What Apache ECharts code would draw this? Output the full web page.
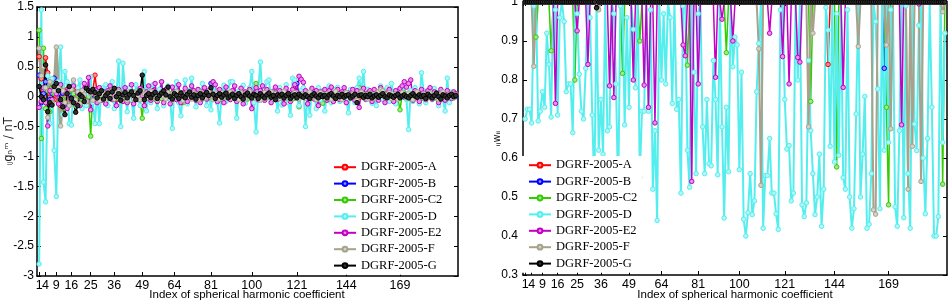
<!DOCTYPE html>
<html>
<head>
<meta charset="utf-8">
<script src="https://cdn.jsdelivr.net/npm/echarts@6/dist/echarts.min.js"></script>
<style>
  html, body { margin: 0; padding: 0; background: #fff; }
  #chart { width: 952px; height: 306px; }
</style>
</head>
<body>
<div id="chart"></div>
<script>
// series names and colours
const names = ["DGRF-2005-A", "DGRF-2005-B", "DGRF-2005-C2", "DGRF-2005-D", "DGRF-2005-E2", "DGRF-2005-F", "DGRF-2005-G"];
const colors = ["#ff0000", "#0000ff", "#33cc00", "#55eeee", "#c400c4", "#a6a28c", "#000000"];
const fills = ["#ff9090", "#9090ff", "#a0e890", "#b0f8f8", "#e890e8", "#d4d2c6", "#303030"];

// x tick positions (n^2)
const xTicks = [1, 4, 9, 16, 25, 36, 49, 64, 81, 100, 121, 144, 169];
const xTitle = "Index of spherical harmonic coefficient";

// left panel: coefficient differences (nT), index 1..195
const leftA = [
  0.67, 0.30, 0.10, 0.65, 0.40, 0.05, 0.15, -0.05, 0.10, 0.20, -0.15, 0.05, -0.10, 0.12, 0.02,
  -0.05, 0.10, -0.08, 0.04, 0.06, -0.03, 0.08, 0.02, 0.05, 0.00, 0.10, 0.36, 0.05, -0.02, 0.06,
  0.02, -0.03, 0.05, 0.01, 0.07, 0.03, -0.04, 0.04, 0.06, -0.02, 0.03, 0.00, 0.05, 0.02, -0.03,
  0.04, 0.02, -0.02, 0.08, 0.01, 0.03, -0.03, 0.05, 0.02, -0.01, 0.04, 0.06, -0.02, 0.03, 0.01,
  0.05, -0.02, 0.02, 0.04, -0.01, 0.03, 0.00, 0.05, -0.03, 0.02, 0.04, 0.01, -0.02, 0.03, 0.05,
  0.00, -0.02, 0.04, 0.02, 0.03, 0.06, -0.01, 0.02, 0.04, -0.03, 0.01, 0.03, 0.05, 0.00, -0.02,
  0.03, 0.01, 0.04, -0.02, 0.02, 0.05, 0.00, -0.03, 0.03, 0.02, 0.04, -0.01, 0.02, 0.05, 0.01,
  -0.02, 0.03, 0.04, 0.00, 0.02, -0.03, 0.05, 0.01, 0.03, -0.02, 0.02, 0.04, 0.00, 0.03, 0.01,
  0.05, -0.02, 0.02, 0.03, 0.00, 0.04, -0.01, 0.02, 0.05, 0.01, -0.02, 0.03, 0.02, 0.00, 0.04,
  0.01, -0.02, 0.03, 0.05, 0.00, 0.02, -0.01, 0.04, 0.02, 0.03, -0.02, 0.01, 0.04, 0.02, -0.01,
  0.03, 0.05, 0.00, 0.02, -0.02, 0.04, 0.01, 0.03, 0.00, 0.05, 0.02, -0.01, 0.03, 0.04, 0.00,
  0.02, -0.02, 0.04, 0.01, 0.03, 0.05, 0.00, -0.01, 0.03, 0.02, 0.04, -0.02, 0.01, 0.03, 0.02,
  0.00, 0.04, -0.01, 0.02, 0.03, 0.05, 0.00, -0.02, 0.03, 0.01, 0.04, 0.00, 0.02, -0.01, 0.03
];
const leftB = [
  0.36, -0.10, 0.05, 0.25, 0.10, -0.05, 0.05, 0.31, 0.10, 0.05, -0.08, 0.06, -0.12, 0.08, 0.04,
  -0.02, 0.06, -0.10, 0.03, 0.05, -0.02, 0.07, 0.03, 0.04, -0.01, 0.06, 0.04, -0.03, 0.05, 0.02,
  -0.02, 0.03, 0.06, 0.00, 0.04, 0.07, -0.02, 0.03, 0.05, -0.03, 0.02, 0.01, 0.04, 0.06, -0.01,
  0.03, 0.02, -0.02, 0.05, 0.01, 0.04, -0.02, 0.03, 0.05, 0.00, 0.02, 0.04, -0.01, 0.03, 0.02,
  0.04, 0.00, -0.02, 0.03, 0.05, 0.01, -0.01, 0.04, 0.02, 0.03, 0.05, -0.02, 0.01, 0.03, 0.04,
  -0.01, 0.02, 0.05, 0.03, 0.00, 0.22, 0.04, -0.02, 0.02, 0.03, 0.05, 0.00, -0.02, 0.04, 0.01,
  0.02, 0.05, -0.01, 0.03, 0.02, 0.04, 0.00, -0.02, 0.03, 0.05, 0.01, 0.02, -0.01, 0.04, 0.03,
  0.00, 0.02, 0.05, -0.02, 0.03, 0.01, 0.04, 0.02, -0.01, 0.03, 0.05, 0.00, 0.02, 0.04, -0.02,
  0.22, 0.03, 0.01, 0.04, -0.01, 0.02, 0.05, 0.00, 0.03, 0.02, -0.02, 0.04, 0.01, 0.03, 0.05,
  -0.01, 0.02, 0.04, 0.00, 0.03, 0.01, -0.02, 0.05, 0.02, 0.03, 0.00, 0.04, -0.01, 0.02, 0.03,
  0.05, 0.00, 0.02, -0.02, 0.04, 0.01, 0.03, 0.05, -0.01, 0.02, 0.04, 0.00, 0.03, 0.01, -0.02,
  0.04, 0.02, 0.03, 0.00, 0.05, -0.01, 0.02, 0.04, 0.01, -0.02, 0.03, 0.05, 0.00, 0.02, 0.04,
  -0.01, 0.03, 0.02, 0.05, 0.00, -0.02, 0.04, 0.01, 0.03, 0.02, 0.05, -0.01, 0.02, 0.04, 0.00
];
const leftC2 = [
  1.11, -0.70, 0.81, -0.20, 0.10, -0.25, 0.15, 0.05, 0.20, -0.10, 0.12, -0.05, -0.20, 0.08, 0.10,
  -0.06, 0.05, -0.15, 0.02, 0.08, -0.04, 0.06, 0.10, 0.00, -0.66, 0.08, 0.04, -0.03, 0.06, 0.02,
  -0.05, 0.04, 0.07, -0.02, 0.05, 0.10, -0.03, 0.03, 0.06, -0.04, 0.05, 0.02, -0.06, 0.04, 0.08,
  -0.02, 0.03, -0.05, -0.36, 0.04, 0.06, -0.02, 0.03, 0.05, -0.04, 0.02, 0.07, -0.03, 0.05, 0.01,
  0.04, -0.03, 0.06, 0.02, -0.05, 0.03, 0.07, -0.10, 0.02, 0.05, -0.02, 0.04, 0.01, -0.03, 0.06,
  0.02, -0.04, 0.05, 0.03, -0.02, 0.06, 0.01, -0.03, 0.04, 0.02, -0.05, 0.03, 0.06, -0.01, 0.02,
  0.05, -0.03, 0.02, 0.04, -0.02, 0.06, 0.01, -0.04, 0.03, 0.05, -0.02, 0.22, 0.04, -0.03, 0.02,
  0.05, -0.01, 0.03, -0.04, 0.02, 0.06, 0.00, -0.03, 0.04, 0.02, -0.02, 0.05, 0.01, -0.04, 0.03,
  0.06, -0.17, 0.02, 0.04, -0.02, 0.03, 0.05, -0.01, 0.02, -0.04, 0.04, 0.01, -0.11, 0.03, 0.05,
  -0.02, 0.02, 0.04, -0.03, 0.01, 0.05, 0.02, -0.02, 0.03, 0.06, -0.01, 0.02, -0.04, 0.03, 0.15,
  0.02, -0.02, 0.04, 0.01, -0.03, 0.05, 0.02, -0.01, 0.03, 0.06, 0.00, -0.02, 0.04, 0.02, -0.03,
  0.05, 0.01, -0.02, -0.22, 0.03, 0.06, 0.00, -0.03, 0.04, 0.02, -0.02, 0.05, 0.01, -0.03, 0.03,
  0.04, -0.01, 0.02, 0.05, -0.02, 0.03, 0.00, -0.04, 0.04, 0.02, -0.01, 0.03, 0.05, -0.02, 0.02
];
const leftD = [
  -2.80, 1.45, -1.43, -1.76, 0.35, -0.45, 0.30, -0.90, -1.67, 0.25, 0.83, -0.30, 0.42, 0.25, -0.45,
  -0.475, 0.20, -0.10, 0.15, 0.28, -0.20, 0.10, -0.15, 0.05, 0.33, -0.10, -0.45, 0.10, -0.45, 0.15,
  -0.05, 0.20, -0.15, 0.10, 0.25, -0.20, 0.05, 0.595, -0.50, 0.56, 0.10, -0.25, 0.15, -0.05, -0.36,
  0.20, 0.05, -0.15, 0.10, 0.42, -0.24, 0.15, -0.10, 0.20, 0.05, -0.20, 0.12, 0.25, -0.15, 0.10,
  0.18, -0.05, -0.53, 0.15, 0.25, -0.10, -0.32, 0.05, 0.28, -0.12, 0.10, 0.31, 0.05, -0.17, 0.12,
  -0.05, 0.22, 0.10, -0.15, 0.05, -0.22, 0.15, 0.08, -0.10, -0.44, 0.05, 0.19, -0.08, 0.12, 0.25,
  0.25, 0.05, -0.36, 0.10, -0.05, 0.19, -0.11, 0.05, 0.15, 0.42, -0.10, -0.59, 0.10, 0.58, -0.05,
  0.12, 0.25, 0.28, -0.08, 0.10, 0.05, -0.24, 0.15, -0.14, 0.05, 0.20, -0.10, -0.31, 0.31, 0.28,
  0.05, -0.15, 0.10, 0.15, -0.50, 0.05, -0.31, 0.12, 0.08, -0.20, 0.15, -0.05, 0.10, -0.24, 0.05,
  0.18, -0.10, 0.05, 0.12, 0.155, -0.08, 0.05, 0.10, -0.05, -0.27, 0.12, 0.05, -0.10, 0.15, 0.31,
  0.10, 0.42, -0.05, 0.12, 0.05, -0.11, 0.10, -0.15, 0.05, 0.18, -0.05, 0.10, 0.15, -0.08, 0.22,
  0.05, -0.12, 0.10, 0.05, 0.15, 0.22, -0.05, -0.55, 0.10, -0.08, 0.15, 0.05, -0.12, 0.40, 0.10,
  -0.10, 0.05, 0.12, -0.05, 0.14, 0.05, -0.15, 0.10, -0.05, -0.24, 0.31, -0.10, 0.08, 0.02, 0.05
];
const leftE2 = [
  -0.18, -0.08, 0.15, -0.10, -0.49, 0.10, -0.05, 0.15, 0.05, -0.12, 0.20, -0.15, 0.08, -0.20, 0.12,
  -0.05, 0.18, -0.12, 0.06, -0.15, 0.10, 0.22, -0.08, 0.32, -0.22, 0.05, 0.12, -0.10, 0.15, -0.06,
  0.08, -0.12, 0.10, 0.18, -0.05, 0.02, -0.15, 0.12, 0.05, -0.08, 0.15, -0.10, 0.03, 0.20, -0.12,
  0.06, -0.05, 0.14, 0.02, -0.15, 0.08, 0.18, -0.06, 0.10, 0.22, -0.08, 0.04, 0.25, -0.10, 0.12,
  0.05, -0.12, 0.16, 0.08, -0.05, 0.20, -0.10, 0.06, 0.14, -0.08, 0.02, 0.18, 0.10, -0.06, 0.12,
  -0.10, 0.08, 0.15, -0.04, 0.10, 0.05, 0.25, 0.20, -0.08, 0.12, 0.04, -0.10, 0.16, 0.06, -0.05,
  0.10, 0.18, -0.08, 0.05, 0.14, -0.12, 0.08, 0.02, 0.12, -0.20, 0.06, 0.15, -0.05, 0.10, 0.18,
  -0.06, 0.12, 0.04, -0.10, 0.08, 0.16, -0.04, 0.10, 0.02, -0.12, 0.14, 0.06, -0.08, 0.12, 0.20,
  0.08, 0.34, 0.29, 0.24, 0.10, -0.12, 0.06, 0.14, -0.04, 0.10, -0.15, 0.08, 0.02, 0.12, -0.06,
  0.10, 0.16, -0.08, 0.05, 0.12, -0.05, 0.08, 0.15, -0.10, 0.06, 0.02, 0.12, -0.06, 0.10, -0.18,
  0.08, 0.14, -0.04, 0.06, 0.10, -0.08, 0.12, 0.04, -0.06, 0.15, 0.08, -0.10, 0.06, 0.12, 0.02,
  -0.08, 0.10, 0.05, 0.14, 0.18, 0.25, 0.16, 0.22, 0.28, -0.06, 0.10, 0.04, -0.08, 0.12, 0.06,
  -0.05, 0.10, 0.15, -0.04, 0.08, 0.02, -0.10, 0.12, 0.06, -0.06, 0.10, 0.04, -0.03, 0.08, 0.05
];
const leftF = [
  0.81, 0.35, 0.50, 0.15, -0.35, 0.25, -0.10, 0.10, 0.83, 0.15, -0.49, 0.10, -0.10, 0.05, -0.15,
  0.12, 0.28, -0.05, 0.08, -0.12, 0.10, 0.03, -0.08, 0.12, 0.05, -0.06, 0.09, 0.02, -0.07, 0.10,
  0.04, -0.05, 0.08, 0.00, 0.11, -0.04, 0.06, 0.09, -0.07, 0.05, 0.02, -0.06, 0.08, 0.03, -0.04,
  0.07, 0.01, -0.05, 0.10, 0.04, -0.03, 0.06, 0.09, -0.02, 0.05, -0.06, 0.03, 0.08, 0.00, -0.04,
  0.07, 0.02, -0.05, 0.06, 0.09, -0.02, 0.04, -0.06, 0.03, 0.08, 0.01, -0.04, 0.06, 0.02, -0.05,
  0.08, 0.03, -0.03, 0.05, 0.09, 0.00, -0.05, 0.06, 0.02, -0.04, 0.07, 0.03, -0.02, 0.05, 0.08,
  -0.03, 0.04, 0.01, -0.05, 0.07, 0.02, -0.04, 0.06, 0.09, 0.00, -0.03, 0.05, 0.02, -0.06, 0.04,
  0.07, -0.02, 0.03, 0.08, -0.04, 0.05, 0.01, -0.03, 0.06, 0.09, -0.02, 0.04, -0.05, 0.03, 0.07,
  0.01, -0.04, 0.05, 0.02, -0.03, 0.06, 0.08, -0.01, 0.03, -0.05, 0.04, 0.07, 0.00, -0.03, 0.05,
  0.02, -0.04, 0.06, 0.09, -0.02, 0.03, -0.05, 0.04, 0.07, 0.01, -0.03, 0.05, 0.02, -0.06, 0.04,
  0.08, -0.01, 0.03, -0.04, 0.06, 0.02, -0.03, 0.05, 0.09, 0.12, 0.10, -0.02, 0.04, 0.07, -0.03,
  0.02, 0.05, -0.04, 0.03, 0.07, 0.00, -0.02, 0.06, 0.03, -0.05, 0.04, 0.08, -0.01, 0.02, 0.05,
  -0.04, 0.03, 0.06, -0.02, 0.04, 0.01, -0.05, 0.05, 0.08, 0.00, -0.03, 0.04, 0.06, -0.02, 0.03
];
const leftG = [
  0.17, 0.00, -0.05, 0.53, -0.25, -0.10, -0.14, 0.17, 0.22, 0.10, -0.05, -0.17, -0.30, 0.05, 0.17,
  -0.03, -0.10, -0.26, -0.15, 0.03, 0.00, -0.08, 0.14, 0.10, 0.08, 0.12, 0.07, -0.02, 0.05, 0.10,
  -0.04, 0.02, 0.06, -0.03, 0.08, 0.14, 0.00, 0.05, -0.06, 0.03, 0.07, -0.02, 0.04, 0.08, 0.02,
  -0.05, 0.06, 0.10, 0.36, -0.05, 0.02, 0.05, -0.02, 0.04, 0.07, -0.03, 0.02, 0.06, 0.10, 0.03,
  0.16, 0.00, -0.04, 0.05, 0.02, -0.03, 0.06, 0.01, -0.02, 0.04, 0.08, -0.01, 0.03, -0.04, 0.02,
  0.05, -0.02, 0.03, 0.07, 0.02, 0.15, 0.04, -0.03, 0.02, 0.05, -0.01, 0.03, 0.06, -0.02, 0.01,
  0.04, -0.03, 0.02, 0.05, 0.00, -0.04, 0.03, 0.06, 0.01, -0.02, 0.04, 0.02, -0.03, 0.05, 0.01,
  -0.02, 0.03, 0.06, -0.01, 0.02, -0.05, 0.03, 0.01, 0.04, -0.02, 0.02, 0.05, -0.03, 0.01, 0.03,
  -0.02, 0.04, 0.01, -0.01, 0.03, 0.00, -0.03, 0.02, 0.05, 0.01, -0.02, 0.03, 0.00, 0.02, -0.02,
  0.03, 0.05, 0.01, -0.03, 0.02, 0.00, 0.04, -0.01, 0.02, 0.03, -0.02, 0.01, 0.04, -0.10, 0.02,
  0.03, -0.01, 0.02, 0.00, 0.04, -0.02, 0.01, 0.03, -0.01, 0.02, 0.05, 0.00, -0.02, 0.03, 0.01,
  -0.01, 0.02, 0.04, -0.02, 0.01, 0.03, 0.00, -0.02, 0.02, 0.05, 0.01, -0.01, 0.03, 0.00, 0.02,
  -0.03, 0.04, 0.01, -0.02, 0.02, 0.06, 0.00, -0.04, 0.03, 0.01, -0.02, 0.02, 0.04, 0.00, 0.02
];

// right panel: weights, index 1..195
const rightA = [
  1, 1, 1, 1, 1, 1, 1, 1, 1, 1, 1, 1, 1, 1, 1,
  1, 1, 1, 1, 1, 1, 1, 1, 1, 1, 1, 1, 1, 1, 1,
  1, 1, 1, 1, 1, 1, 1, 1, 1, 1, 1, 1, 1, 1, 1,
  1, 1, 1, 1, 1, 1, 1, 1, 1, 1, 1, 1, 1, 1, 1,
  1, 1, 1, 1, 1, 1, 1, 1, 1, 1, 1, 1, 1, 1, 1,
  1, 1, 1, 1, 1, 1, 1, 1, 1, 1, 1, 1, 1, 1, 1,
  1, 1, 1, 1, 1, 1, 1, 1, 1, 1, 1, 1, 1, 1, 1,
  1, 1, 1, 1, 1, 1, 1, 1, 1, 1, 1, 1, 1, 1, 1,
  1, 1, 1, 1, 1, 1, 1, 1, 1, 1, 1, 1, 1, 1, 1,
  1, 1, 1, 1, 1, 0.84, 1, 1, 1, 1, 1, 1, 1, 1, 1,
  1, 1, 1, 1, 1, 1, 1, 1, 1, 1, 1, 1, 1, 1, 1,
  1, 1, 1, 1, 1, 1, 1, 1, 1, 1, 1, 1, 1, 1, 1,
  1, 1, 1, 1, 1, 1, 1, 1, 1, 1, 1, 1, 1, 1, 1
];
const rightB = [
  1, 1, 1, 1, 1, 1, 1, 1, 1, 1, 1, 1, 1, 1, 1,
  1, 1, 1, 1, 1, 1, 1, 1, 1, 1, 1, 1, 1, 1, 1,
  1, 1, 1, 1, 1, 1, 1, 1, 1, 1, 1, 1, 1, 1, 1,
  1, 1, 1, 1, 1, 1, 1, 1, 1, 1, 1, 1, 1, 1, 1,
  1, 1, 1, 1, 1, 1, 1, 1, 1, 1, 1, 1, 1, 1, 1,
  1, 1, 1, 1, 1, 1, 1, 1, 1, 1, 1, 1, 1, 1, 1,
  1, 1, 1, 1, 1, 1, 1, 1, 1, 1, 1, 1, 1, 1, 1,
  1, 1, 1, 1, 1, 1, 1, 1, 1, 1, 1, 1, 1, 1, 1,
  1, 1, 1, 1, 1, 1, 1, 1, 1, 1, 1, 1, 1, 1, 1,
  1, 1, 1, 1, 1, 1, 1, 1, 1, 1, 1, 1, 1, 1, 1,
  1, 1, 1, 1, 1, 1, 1, 1, 1, 1, 1, 1, 1, 1, 1,
  1, 0.83, 1, 1, 1, 1, 1, 1, 1, 1, 1, 1, 1, 1, 1,
  1, 1, 1, 1, 1, 1, 1, 1, 1, 1, 1, 1, 1, 1, 1
];
const rightC2 = [
  1, 1, 1, 1, 1, 0.91, 1, 1, 1, 1, 1, 1, 0.875, 1, 1,
  1, 1, 1, 1, 1, 1, 1, 1, 0.80, 1, 1, 1, 1, 1, 1,
  1, 1, 1, 1, 1, 1, 1, 1, 1, 1, 1, 1, 1, 1, 1,
  0.817, 1, 1, 1, 1, 1, 1, 1, 0.90, 1, 1, 1, 1, 1, 1,
  1, 1, 1, 1, 1, 1, 1, 1, 1, 1, 1, 1, 1, 1, 1,
  0.838, 1, 1, 1, 1, 1, 1, 1, 1, 1, 1, 1, 1, 1, 1,
  1, 1, 1, 0.87, 1, 1, 1, 1, 1, 1, 1, 1, 1, 1, 1,
  1, 1, 1, 1, 1, 1, 1, 1, 1, 1, 1, 1, 1, 1, 1,
  1, 1, 1, 1, 1, 1, 1, 1, 1, 1, 1, 1, 0.745, 1, 1,
  1, 1, 1, 1, 1, 1, 1, 1, 1, 0.577, 1, 1, 1, 1, 1,
  1, 1, 1, 1, 1, 1, 1, 1, 1, 1, 1, 1, 1, 1, 1,
  1, 1, 0.73, 0.48, 1, 1, 1, 1, 1, 1, 1, 1, 1, 1, 1,
  1, 1, 1, 1, 1, 1, 1, 1, 1, 1, 1, 1, 1, 0.533, 1
];
const rightD = [
  0.70, 0.725, 0.725, 0.69, 0.99, 1, 0.695, 0.72, 0.77, 0.73, 0.92, 0.84, 0.705, 1, 0.98,
  0.71, 0.96, 1, 0.95, 0.77, 0.79, 0.79, 0.665, 1, 0.97, 0.815, 0.72, 0.70, 0.83, 1,
  0.96, 0.71, 0.52, 1, 0.62, 0.75, 0.61, 1, 0.67, 0.68, 1, 0.97, 0.79, 0.50, 0.99,
  1, 0.685, 0.96, 0.73, 1, 0.93, 0.78, 1, 0.55, 0.72, 0.72, 1, 0.72, 0.98, 0.52,
  0.67, 0.44, 1, 0.80, 0.97, 0.79, 1, 0.96, 0.74, 1, 0.725, 0.75, 0.51, 0.99, 1,
  0.62, 0.525, 1, 0.82, 0.56, 0.97, 1, 0.68, 0.56, 0.75, 0.585, 0.58, 0.85, 0.75, 0.557,
  1, 0.68, 0.446, 0.73, 0.565, 1, 0.834, 0.91, 0.89, 0.57, 0.82, 0.443, 0.40, 0.46, 0.56,
  0.455, 0.49, 0.77, 0.894, 1, 0.42, 0.555, 0.555, 0.65, 0.51, 0.51, 0.457, 0.417, 0.98, 1,
  0.75, 0.623, 0.632, 0.49, 0.51, 1, 0.80, 1, 0.48, 0.45, 0.485, 0.85, 0.67, 0.56, 0.455,
  0.50, 0.61, 0.425, 0.52, 0.986, 0.928, 0.63, 1, 0.59, 0.97, 0.607, 1, 0.55, 0.52, 0.98,
  0.50, 0.42, 0.47, 0.713, 1, 0.50, 0.61, 0.758, 0.42, 0.43, 0.56, 1, 0.95, 0.777, 0.47,
  1, 0.62, 1, 0.64, 0.98, 1, 0.475, 0.425, 0.67, 1, 0.447, 0.99, 0.56, 0.42, 1,
  0.687, 0.619, 0.94, 1, 0.60, 0.457, 0.65, 1, 0.73, 0.40, 0.40, 0.45, 1, 0.64, 0.92
];
const rightE2 = [
  1, 1, 1, 1, 1, 1, 1, 1, 1, 1, 1, 1, 1, 1, 0.74,
  1, 1, 1, 1, 1, 1, 1, 1, 1, 0.926, 1, 1, 1, 1, 0.84,
  1, 1, 1, 1, 1, 1, 1, 1, 1, 0.785, 1, 0.755, 1, 1, 1,
  1, 1, 1, 1, 1, 0.80, 1, 1, 1, 1, 0.787, 1, 0.73, 1, 1,
  0.69, 1, 1, 1, 1, 1, 1, 1, 1, 1, 1, 1, 1, 0.89, 0.862,
  1, 1, 0.54, 1, 1, 0.79, 1, 1, 1, 1, 1, 1, 1, 0.807, 1,
  1, 0.956, 1, 1, 1, 1, 0.90, 1, 1, 1, 1, 1, 1, 1, 1,
  1, 1, 1, 1, 1, 1, 1, 1, 0.92, 1, 1, 1, 1, 1, 0.86,
  1, 1, 0.79, 1, 1, 1, 0.858, 0.846, 1, 1, 1, 1, 1, 1, 1,
  1, 1, 1, 1, 1, 1, 1, 1, 1, 1, 1, 1, 0.781, 1, 1,
  1, 1, 1, 1, 1, 1, 1, 1, 1, 1, 1, 1, 1, 1, 1,
  1, 1, 1, 1, 1, 1, 1, 1, 1, 0.685, 1, 1, 1, 1, 1,
  1, 1, 0.995, 1, 1, 1, 1, 1, 1, 1, 1, 1, 1, 1, 1
];
const rightF = [
  1, 1, 1, 1, 0.835, 1, 1, 1, 1, 1, 1, 1, 1, 1, 1,
  1, 1, 1, 1, 1, 1, 1, 1, 1, 1, 1, 1, 1, 1, 1,
  1, 1, 1, 1, 0.98, 1, 1, 1, 1, 1, 1, 1, 1, 1, 1,
  1, 1, 1, 1, 1, 1, 1, 1, 1, 1, 1, 1, 1, 1, 1,
  1, 1, 1, 1, 1, 1, 1, 1, 1, 1, 1, 1, 1, 1, 1,
  1, 1, 1, 1, 1, 1, 1, 1, 1, 1, 1, 1, 1, 1, 1,
  1, 1, 1, 1, 1, 1, 1, 1, 1, 1, 1, 1, 1, 1, 1,
  1, 1, 1, 0.88, 0.53, 1, 1, 1, 1, 1, 1, 1, 1, 1, 1,
  1, 1, 1, 1, 1, 1, 1, 1, 1, 1, 1, 0.68, 1, 0.92, 1,
  1, 1, 1, 1, 1, 1, 1, 1, 1, 1, 1, 1, 1, 1, 1,
  1, 1, 1, 1, 0.886, 1, 1, 1, 1, 1, 1, 0.467, 0.456, 1, 1,
  1, 1, 0.89, 1, 0.675, 1, 1, 1, 1, 1, 1, 1, 0.52, 1, 0.63,
  1, 1, 1, 0.54, 1, 1, 1, 1, 1, 1, 1, 1, 1, 0.975, 1
];
const rightG = [
  1, 1, 1, 1, 1, 1, 1, 1, 1, 1, 1, 1, 1, 1, 1,
  1, 1, 1, 1, 1, 1, 1, 1, 1, 1, 1, 1, 1, 1, 1,
  1, 1, 1, 0.985, 1, 1, 1, 1, 1, 1, 1, 1, 1, 1, 1,
  1, 1, 1, 1, 1, 1, 1, 1, 1, 1, 1, 1, 1, 1, 1,
  1, 1, 1, 1, 1, 1, 1, 1, 1, 1, 1, 1, 1, 1, 1,
  1, 1, 1, 1, 1, 1, 1, 1, 1, 1, 1, 1, 1, 1, 1,
  1, 1, 1, 1, 1, 1, 1, 1, 1, 1, 1, 1, 1, 1, 1,
  1, 1, 1, 1, 1, 1, 1, 1, 1, 1, 1, 1, 1, 1, 1,
  1, 1, 1, 1, 1, 1, 1, 1, 1, 1, 1, 1, 1, 1, 1,
  1, 1, 1, 1, 1, 1, 1, 1, 1, 1, 1, 1, 1, 1, 1,
  1, 1, 1, 1, 1, 1, 1, 1, 1, 1, 1, 1, 1, 1, 1,
  1, 1, 1, 1, 1, 1, 1, 1, 1, 1, 1, 1, 1, 1, 1,
  1, 1, 1, 1, 1, 1, 1, 1, 1, 1, 1, 1, 1, 1, 1
];

const leftVals = [leftA, leftB, leftC2, leftD, leftE2, leftF, leftG];
const rightVals = [rightA, rightB, rightC2, rightD, rightE2, rightF, rightG];
const leftWidths = [1.5, 1.5, 1.5, 2, 1.5, 3, 1.5];
const rightWidths = [1.5, 1.5, 1.5, 2, 1.5, 2, 1.5];

const font = "Liberation Sans, Arial, sans-serif";

function makeSeries(vals, k, axis, widths, size) {
  return {
    name: names[k],
    type: "line",
    xAxisIndex: axis,
    yAxisIndex: axis,
    data: vals.map((v, i) => [i + 1, v]),
    symbol: "circle",
    symbolSize: size,
    showSymbol: true,
    animation: false,
    lineStyle: { color: colors[k], width: widths[k] },
    itemStyle: { color: fills[k], borderColor: colors[k], borderWidth: 1 },
    emphasis: { disabled: true },
  };
}

// a blank label at 0 absorbs the min-label overlap check, so "1" and "4" both show
const labelValues = [0].concat(xTicks);

function xAxes(grid) {
  const base = {
    gridIndex: grid, type: "value", min: 0, max: 196,
    splitLine: { show: false },
    axisLine: { show: true, onZero: false, lineStyle: { color: "#000", width: 1.5 } },
  };
  return [
    Object.assign({}, base, {
      position: "bottom",
      axisTick: { inside: true, length: 4, customValues: labelValues, lineStyle: { color: "#000" } },
      axisLabel: {
        customValues: labelValues, margin: 3, showMinLabel: false, showMaxLabel: true,
        formatter: (v) => (v === 0 ? "" : String(v)),
        fontFamily: font, fontSize: 12.5, color: "#000",
      },
    }),
    Object.assign({}, base, {
      position: "top",
      axisTick: { inside: true, length: 4, customValues: labelValues, lineStyle: { color: "#000" } },
      axisLabel: { show: false },
    }),
  ];
}

function yAxes(grid, min, max, step, name, nameSize, gap, labelGap) {
  const base = {
    gridIndex: grid, type: "value", min: min, max: max, interval: step,
    splitLine: { show: false },
    axisLine: { show: true, onZero: false, lineStyle: { color: "#000", width: 1.5 } },
    axisTick: { inside: true, length: 4, lineStyle: { color: "#000" } },
  };
  return [
    Object.assign({}, base, {
      position: "left",
      name: name,
      nameLocation: "middle",
      nameGap: gap,
      nameMoveOverlap: false,
      nameTextStyle: { fontFamily: "DejaVu Sans, sans-serif", fontSize: nameSize, color: "#222" },
      axisLabel: { margin: labelGap, showMinLabel: true, showMaxLabel: true, fontFamily: font, fontSize: 12, color: "#000" },
    }),
    Object.assign({}, base, { position: "right", axisLabel: { show: false } }),
  ];
}

function legendAt(left, top) {
  return {
    orient: "vertical",
    left: left, top: top,
    padding: [1, 5, 1, 6],
    backgroundColor: "#fff",
    itemWidth: 22, itemHeight: 6, itemGap: 0,
    selectedMode: false,
    textStyle: { fontFamily: "Liberation Serif, Times New Roman, serif", fontSize: 12.5, lineHeight: 16.4, color: "#000" },
    data: names,
  };
}

const series = [];
leftVals.forEach((v, k) => series.push(makeSeries(v, k, 0, leftWidths, 4.5)));
rightVals.forEach((v, k) => series.push(makeSeries(v, k, 2, rightWidths, 4.5)));

const titleStyle = { fontFamily: font, fontSize: 11.5, fontWeight: "normal", color: "#000" };

const options = {
  backgroundColor: "#fff",
  animation: false,
  grid: [
    { left: 37, top: 7, width: 421, height: 269, containLabel: false, outerBoundsMode: "none" },
    { left: 523, top: 2, width: 424, height: 273, containLabel: false, outerBoundsMode: "none" },
  ],
  title: [
    { text: xTitle, left: 247, top: 289, textAlign: "center", padding: 0, textStyle: titleStyle },
    { text: xTitle, left: 735, top: 289, textAlign: "center", padding: 0, textStyle: titleStyle },
  ],
  xAxis: xAxes(0).concat(xAxes(1)),
  yAxis: yAxes(0, -3, 1.5, 0.5, "ᵢⱼgₙᵐ / nT", 11.5, 22, 3).concat(yAxes(1, 0.3, 1, 0.1, "ᵢⱼwᵢᵢ", 10, 21, 5)),
  legend: [legendAt(327, 158), legendAt(522, 156)],
  series: series,
};

const chart = echarts.init(document.querySelector("#chart"), null, { renderer: "canvas" });
chart.setOption(options);
</script>
</body>
</html>
